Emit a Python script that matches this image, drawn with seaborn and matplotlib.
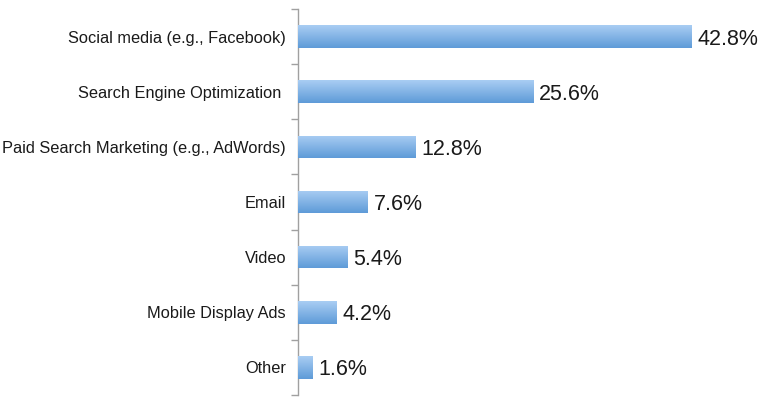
import numpy as np
import pandas as pd
import matplotlib
matplotlib.use("Agg")
import matplotlib.pyplot as plt
import seaborn as sns
from matplotlib.colors import LinearSegmentedColormap

categories = ["Social media (e.g., Facebook)", "Search Engine Optimization ",
              "Paid Search Marketing (e.g., AdWords)", "Email", "Video",
              "Mobile Display Ads", "Other"]
values = [42.8, 25.6, 12.8, 7.6, 5.4, 4.2, 1.6]
value_labels = ["42.8%", "25.6%", "12.8%", "7.6%", "5.4%", "4.2%", "1.6%"]

sns.set_style("white")
plt.rcParams['font.family'] = ['Liberation Sans', 'DejaVu Sans']

df = pd.DataFrame({"cat": categories, "val": values})

fig = plt.figure(figsize=(7.68, 3.97), dpi=100)
ax = fig.add_axes([298/768, 2/397, 460/768, 386/397])
sns.barplot(data=df, y="cat", x="val", orient="h", ax=ax, width=0.41,
            color="#7fb0e6", saturation=1, edgecolor="none")

cmap = LinearSegmentedColormap.from_list("g", ["#a9cdf3", "#5e9bd8"])
grad = np.linspace(0, 1, 64).reshape(-1, 1)
for p in ax.patches:
    x0, y0 = p.get_x(), p.get_y()
    w, h = p.get_width(), p.get_height()
    im = ax.imshow(grad, cmap=cmap, aspect="auto",
                   extent=(x0, x0 + w, y0 + h, y0), origin="upper", zorder=3)
    im.set_clip_path(p)
ax.set_xlim(0, 50)
ax.set_ylim(len(categories) - 0.5, -0.5)

for i, (v, lab) in enumerate(zip(values, value_labels)):
    ax.text(v + 0.6, i, lab, va="center_baseline", ha="left", fontsize=15.5, color="#1a1a1a")

ax.set_xlabel("")
ax.set_ylabel("")
ax.set_xticks([])
for s in ["top", "right", "bottom"]:
    ax.spines[s].set_visible(False)
ax.spines["left"].set_color("#a0a0a0")
ax.spines["left"].set_linewidth(1)
ax.tick_params(axis="y", which="major", left=True, length=0, pad=8.6,
               labelsize=11.8, labelcolor="#1a1a1a")
ax.set_yticks(np.arange(-0.5, len(categories), 1), minor=True)
ax.tick_params(axis="y", which="minor", left=True, length=5, color="#a0a0a0", width=1)

fig.savefig("out.png", dpi=100)
